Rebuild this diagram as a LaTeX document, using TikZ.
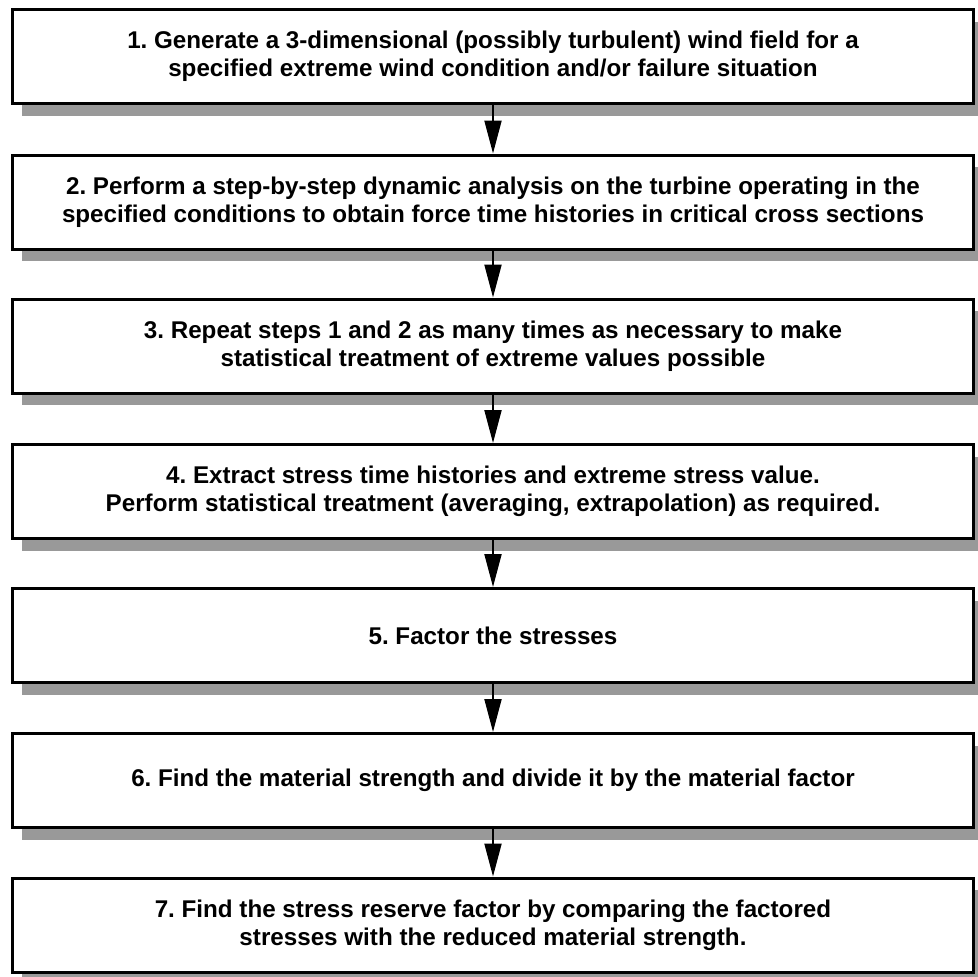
\documentclass[tikz,border=0pt]{standalone}
\usepackage{fontspec}
\setmainfont{Liberation Sans}
\usetikzlibrary{arrows.meta,shadows}
\frenchspacing

\begin{document}
\begin{tikzpicture}[
		x=1pt, y=-1pt,
		stepbox/.style = {rectangle, draw=black, fill=white, line width=3pt,
			minimum width=961pt, minimum height=94pt, align=center,
			font=\fontsize{24.2}{27.8}\selectfont\bfseries,
			drop shadow={shadow xshift=9pt, shadow yshift=-12pt, fill=black!40, opacity=1}},
		r/.style = {-{Triangle[length=33pt, width=17pt]}, line width=2pt}
		]
		\useasboundingbox (0,0) rectangle (978,977);
		
		% === === Nodes === ===
		\node[stepbox]	(p1)	at	(493, 56.5)		{1. Generate a 3-dimensional (possibly turbulent) wind field for a\\specified extreme wind condition and/or failure situation};
		\node[stepbox]	(p2)	at	(493, 202)		{2. Perform a step-by-step dynamic analysis on the turbine operating in the\\specified conditions to obtain force time histories in critical cross sections};
		\node[stepbox]	(p3)	at	(493, 346)		{3. Repeat steps 1 and 2 as many times as necessary to make\\statistical treatment of extreme values possible};
		\node[stepbox]	(p4)	at	(493, 491.5)	{4. Extract stress time histories and extreme stress value.\\Perform statistical treatment (averaging, extrapolation) as required.};
		\node[stepbox]	(p5)	at	(493, 635.5)	{5. Factor the stresses};
		\node[stepbox]	(p6)	at	(493, 780.5)	{6. Find the material strength and divide it by the material factor};
		\node[stepbox]	(p7)	at	(493, 925)		{7. Find the stress reserve factor by comparing the factored\\stresses with the reduced material strength.};
		
		% === === Lines === ===
		\draw[r]	(p1.south)	to	(p2.north);
		\draw[r]	(p2.south)	to	(p3.north);
		\draw[r]	(p3.south)	to	(p4.north);
		\draw[r]	(p4.south)	to	(p5.north);
		\draw[r]	(p5.south)	to	(p6.north);
		\draw[r]	(p6.south)	to	(p7.north);
		
	\end{tikzpicture}
\end{document}
